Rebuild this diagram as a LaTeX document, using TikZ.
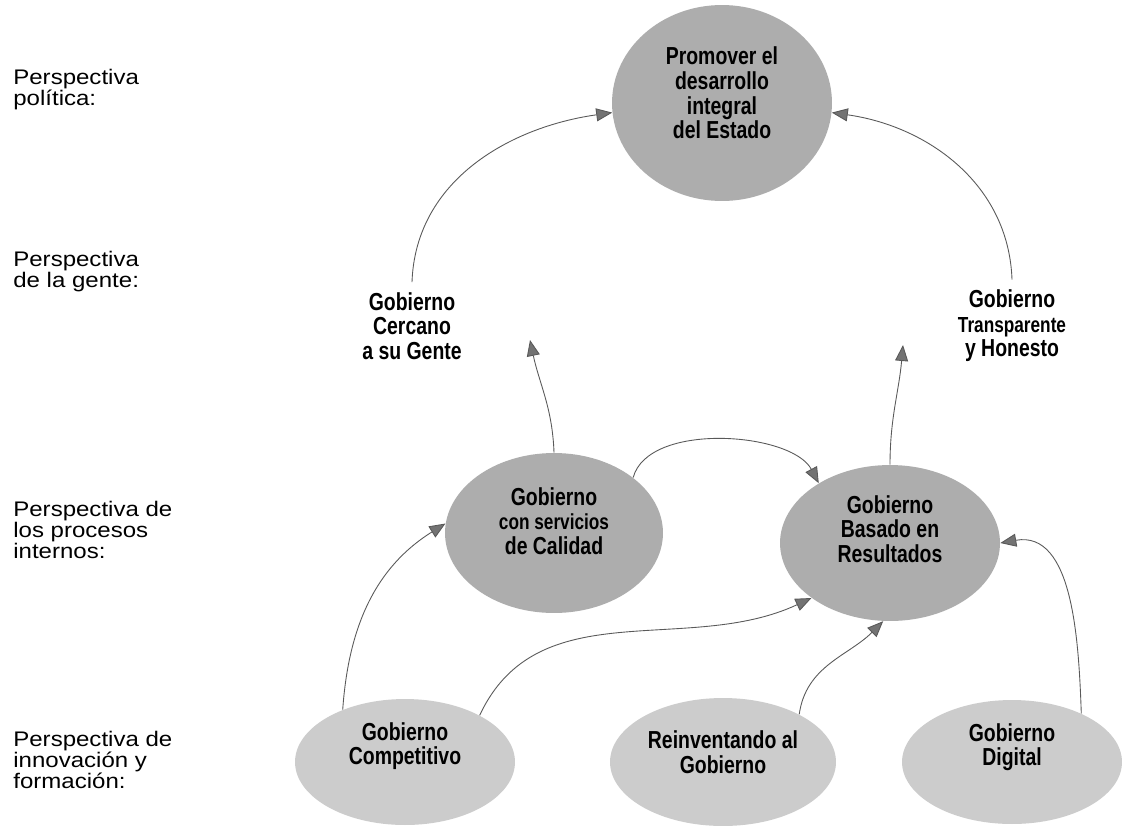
\documentclass[tikz,border=0pt]{standalone}
\usepackage{fontspec}
\setmainfont{Liberation Sans}
\newfontfamily\narrowfont[FakeStretch=0.79]{Liberation Sans}
\newfontfamily\widefont[FakeStretch=1.14]{Liberation Sans}
\usepackage{tikz}
\usetikzlibrary{shapes.geometric, arrows.meta}

\definecolor{bubdark}{gray}{0.68}
\definecolor{bublight}{gray}{0.80}
\definecolor{linegray}{gray}{0.35}
\definecolor{tipgray}{gray}{0.45}

\begin{document}
\begin{tikzpicture}[x=0.02cm, y=-0.02cm,
    bubble/.style={ellipse, fill=#1, draw=none, inner sep=0pt},
    bubble/.default=bubdark,
    bubtext/.style={font=\narrowfont\fontsize{14}{14}\selectfont\bfseries, align=center, inner sep=0pt},
    side/.style={font=\widefont\fontsize{12}{11.9}\selectfont, align=left, anchor=base west, inner sep=0pt},
    conn/.style={-{Triangle[length=3.2mm, width=2.6mm, fill=tipgray]}, draw=linegray, line width=0.5pt}]
    \useasboundingbox[fill=white] (0,0) rectangle (1125,825);

    % perspectivas (base = last line)
    \node[side] (p1) at (13,105) {Perspectiva\\política:};
    \node[side] (p2) at (13,287) {Perspectiva\\de la gente:};
    \node[side] (p3) at (13,558) {Perspectiva de\\los procesos\\internos:};
    \node[side] (p4) at (13,788) {Perspectiva de\\innovación y\\formación:};

    % objetivos
    \node[bubble=bubdark, minimum width=4.4cm, minimum height=3.92cm] (prom) at (722,103) {};
    \node[bubtext] (prom-t) at (722,93) {Promover el\\desarrollo\\integral\\del Estado};

    \node[bubtext, inner ysep=0.2cm] (cercano) at (412,326) {Gobierno\\Cercano\\a su Gente};
    \node[bubtext, inner ysep=0.2cm] (transp) at (1012,326)
        {Gobierno\\{\fontsize{12.4}{14}\selectfont Transparente}\\y Honesto};

    \node[bubble=bubdark, minimum width=4.36cm, minimum height=3.2cm] (calidad) at (554,533) {};
    \node[bubtext] (calidad-t) at (554,521)
        {Gobierno\\{\fontsize{12.4}{13}\selectfont con servicios}\\de Calidad};
    \node[bubble=bubdark, minimum width=4.4cm, minimum height=3.12cm] (basado) at (890,543) {};
    \node[bubtext] (basado-t) at (890,529) {Gobierno\\Basado en\\Resultados};

    \node[bubble=bublight, minimum width=4.4cm, minimum height=2.52cm] (compet) at (405,762) {};
    \node[bubtext] (compet-t) at (405,746) {Gobierno\\Competitivo};
    \node[bubble=bublight, minimum width=4.52cm, minimum height=2.56cm] (reinv) at (723,762) {};
    \node[bubtext] (reinv-t) at (723,752) {Reinventando al\\Gobierno};
    \node[bubble=bublight, minimum width=4.4cm, minimum height=2.48cm] (digital) at (1012,762) {};
    \node[bubtext] (digital-t) at (1012,747) {Gobierno\\Digital};

    \coordinate (cercano-in) at (530,340);
    \coordinate (transp-in) at (903,345);

    % relaciones
    \draw[conn] (cercano.north) to[out=88, in=188] (prom.185);
    \draw[conn] (transp.north) to[out=92, in=-8] (prom.-5);
    \draw[conn] (calidad.north) to[out=92, in=-78] (cercano-in);
    \draw[conn] (basado.north) to[out=90, in=-95] (transp-in);
    \draw[conn] (calidad.35) to[out=75, in=118, looseness=0.8] (basado.140);
    \draw[conn] (compet.140) to[out=86, in=212] (calidad.175);
    \draw[conn] (compet.32) to[out=65, in=205] (basado.215);
    \draw[conn] (reinv.32) to[out=82, in=225] (basado.265);
    \draw[conn] (digital.35) to[out=92, in=10] (basado.east);
\end{tikzpicture}
\end{document}
